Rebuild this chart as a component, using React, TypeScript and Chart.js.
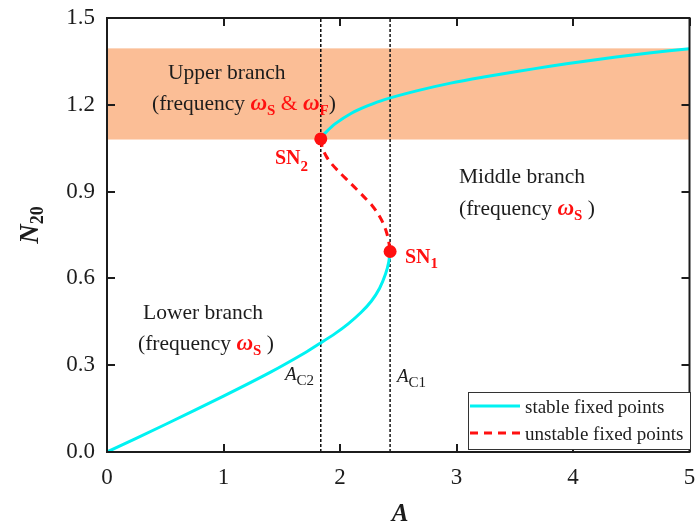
import React, { useEffect, useRef } from "react";
import { Chart, registerables } from "chart.js";

Chart.register(...registerables);

// ---- data ----
const lowerA = [0, 0.5, 1.0, 1.4, 1.7, 1.83, 1.96, 2.07, 2.18, 2.27, 2.34, 2.39, 2.418, 2.43];
const lowerN = [0, 0.095, 0.193, 0.275, 0.343, 0.376, 0.41, 0.443, 0.482, 0.522, 0.566, 0.614, 0.656, 0.693];

const middleA = [1.835, 1.85, 1.885, 1.93, 2.0, 2.07, 2.14, 2.21, 2.275, 2.325, 2.364, 2.393, 2.413, 2.425, 2.43];
const middleN = [1.082, 1.05, 1.02, 0.995, 0.965, 0.937, 0.909, 0.88, 0.852, 0.824, 0.796, 0.767, 0.738, 0.71, 0.693];

const upperA = [1.835, 1.845, 1.871, 1.957, 2.098, 2.24, 2.382, 2.666, 2.95, 3.234, 3.518, 3.802, 4.086, 4.37, 4.653, 5.0];
const upperN = [1.082, 1.09, 1.102, 1.134, 1.171, 1.197, 1.218, 1.249, 1.275, 1.296, 1.315, 1.333, 1.35, 1.365, 1.379, 1.394];

const snA = [1.835, 2.43];
const snN = [1.082, 0.693];

const criticalA = [1.835, 2.43];
const bandN = [1.08, 1.395];

const xTicks = [0, 1, 2, 3, 4, 5];
const yTicks = [0, 0.3, 0.6, 0.9, 1.2, 1.5];

const SERIF = '"Liberation Serif", "Times New Roman", serif';
const CYAN = "#00F2F2";
const RED = "#FF1010";
const BAND = "#FBBE96";
const INK = "#1c1c1c";

const pts = (xs: number[], ys: number[]) => xs.map((x, i) => ({ x, y: ys[i] }));

type Seg = { t: string; f: string; c?: string; dy?: number };

function drawRich(ctx: CanvasRenderingContext2D, x: number, y: number, segs: Seg[], align: "left" | "center" = "left") {
  ctx.save();
  ctx.textBaseline = "alphabetic";
  ctx.textAlign = "left";
  let total = 0;
  for (const s of segs) {
    ctx.font = s.f;
    total += ctx.measureText(s.t).width;
  }
  let cx = align === "center" ? x - total / 2 : x;
  for (const s of segs) {
    ctx.font = s.f;
    ctx.fillStyle = s.c || INK;
    ctx.fillText(s.t, cx, y + (s.dy || 0));
    cx += ctx.measureText(s.t).width;
  }
  ctx.restore();
}

const f = (size: number, style = "") => `${style} ${size}px ${SERIF}`.trim();

const decorPlugin = {
  id: "decor",
  beforeDatasetsDraw(chart: any) {
    const { ctx, chartArea, scales } = chart;
    const ys = scales.y;
    const top = ys.getPixelForValue(bandN[1]);
    const bot = ys.getPixelForValue(bandN[0]);
    ctx.save();
    ctx.fillStyle = BAND;
    ctx.fillRect(chartArea.left, top, chartArea.right - chartArea.left, bot - top);
    ctx.restore();
  },
  afterDraw(chart: any) {
    const { ctx, chartArea: a, scales } = chart;
    const xs = scales.x;
    const ys = scales.y;
    ctx.save();
    // frame
    ctx.strokeStyle = INK;
    ctx.lineWidth = 2;
    ctx.strokeRect(a.left, a.top, a.right - a.left, a.bottom - a.top);
    // inward ticks
    const tl = 8;
    ctx.beginPath();
    for (const v of xTicks) {
      const px = Math.round(xs.getPixelForValue(v));
      ctx.moveTo(px, a.bottom);
      ctx.lineTo(px, a.bottom - tl);
      ctx.moveTo(px, a.top);
      ctx.lineTo(px, a.top + tl);
    }
    for (const v of yTicks) {
      const py = Math.round(ys.getPixelForValue(v));
      ctx.moveTo(a.left, py);
      ctx.lineTo(a.left + tl, py);
      ctx.moveTo(a.right, py);
      ctx.lineTo(a.right - tl, py);
    }
    ctx.stroke();
    ctx.restore();

    // axis titles
    drawRich(ctx, 400, 521, [{ t: "A", f: f(25, "italic bold") }], "center");
    ctx.save();
    ctx.translate(38, 225);
    ctx.rotate(-Math.PI / 2);
    drawRich(ctx, 0, 0, [
      { t: "N", f: f(27, "italic bold") },
      { t: "20", f: f(18, "bold"), dy: 5 },
    ], "center");
    ctx.restore();

    // branch annotations
    const tf = f(21.5);
    const om = f(23, "italic bold");
    const sub = f(15, "bold");
    drawRich(ctx, 168, 79, [{ t: "Upper branch", f: tf }]);
    drawRich(ctx, 152, 110, [
      { t: "(frequency ", f: tf },
      { t: "ω", f: om, c: RED },
      { t: "S", f: sub, c: RED, dy: 5 },
      { t: " & ", f: tf, c: RED },
      { t: "ω", f: om, c: RED },
      { t: "F", f: sub, c: RED, dy: 5 },
      { t: ")", f: tf },
    ]);
    drawRich(ctx, 459, 183, [{ t: "Middle branch", f: tf }]);
    drawRich(ctx, 459, 215, [
      { t: "(frequency ", f: tf },
      { t: "ω", f: om, c: RED },
      { t: "S", f: sub, c: RED, dy: 5 },
      { t: " )", f: tf },
    ]);
    drawRich(ctx, 143, 319, [{ t: "Lower branch", f: tf }]);
    drawRich(ctx, 138, 350, [
      { t: "(frequency ", f: tf },
      { t: "ω", f: om, c: RED },
      { t: "S", f: sub, c: RED, dy: 5 },
      { t: " )", f: tf },
    ]);

    // saddle-node labels
    drawRich(ctx, 275, 164, [
      { t: "SN", f: f(20, "bold"), c: RED },
      { t: "2", f: f(15, "bold"), c: RED, dy: 7 },
    ]);
    drawRich(ctx, 405, 263, [
      { t: "SN", f: f(20, "bold"), c: RED },
      { t: "1", f: f(15, "bold"), c: RED, dy: 5 },
    ]);

    // critical amplitude labels
    drawRich(ctx, 285, 380, [
      { t: "A", f: f(19, "italic") },
      { t: "C2", f: f(15), dy: 5 },
    ]);
    drawRich(ctx, 397, 382, [
      { t: "A", f: f(19, "italic") },
      { t: "C1", f: f(15), dy: 5 },
    ]);

    // legend
    ctx.save();
    ctx.fillStyle = "#fff";
    ctx.fillRect(468, 392, 222, 57);
    ctx.strokeStyle = "#333";
    ctx.lineWidth = 1;
    ctx.strokeRect(468.5, 392.5, 222, 57);
    ctx.lineWidth = 3;
    ctx.strokeStyle = CYAN;
    ctx.beginPath();
    ctx.moveTo(470, 406);
    ctx.lineTo(520, 406);
    ctx.stroke();
    ctx.strokeStyle = RED;
    ctx.setLineDash([8, 6]);
    ctx.beginPath();
    ctx.moveTo(470, 433);
    ctx.lineTo(520, 433);
    ctx.stroke();
    ctx.restore();
    drawRich(ctx, 525, 413, [{ t: "stable fixed points", f: f(19) }]);
    drawRich(ctx, 525, 440, [{ t: "unstable fixed points", f: f(19) }]);
  },
};

export default function App() {
  const ref = useRef<HTMLCanvasElement | null>(null);
  useEffect(() => {
    if (!ref.current) return;
    const chart = new Chart(ref.current, {
      type: "scatter",
      data: {
        datasets: [
          {
            label: "SN",
            data: pts(snA, snN),
            showLine: false,
            pointRadius: 6.5,
            pointBackgroundColor: RED,
            pointBorderColor: RED,
            pointBorderWidth: 0,
          },
          {
            label: "upper",
            data: pts(upperA, upperN),
            showLine: true,
            borderColor: CYAN,
            borderWidth: 3,
            pointRadius: 0,
            tension: 0.3,
          },
          {
            label: "middle",
            data: pts(middleA, middleN),
            showLine: true,
            borderColor: RED,
            borderWidth: 3,
            borderDash: [8, 6],
            pointRadius: 0,
            tension: 0.3,
          },
          {
            label: "lower",
            data: pts(lowerA, lowerN),
            showLine: true,
            borderColor: CYAN,
            borderWidth: 3,
            pointRadius: 0,
            tension: 0.3,
          },
          ...criticalA.map((x, i) => ({
            label: "crit" + i,
            data: [
              { x, y: yTicks[0] },
              { x, y: yTicks[yTicks.length - 1] },
            ],
            showLine: true,
            borderColor: "#111",
            borderWidth: 1.5,
            borderDash: [3, 2],
            pointRadius: 0,
          })),
        ],
      },
      options: {
        animation: false,
        responsive: false,
        events: [],
        layout: { padding: { top: 18, right: 2, left: 0, bottom: 0 } },
        plugins: { legend: { display: false }, tooltip: { enabled: false } },
        scales: {
          x: {
            type: "linear",
            min: 0,
            max: 5,
            afterBuildTicks: (s: any) => {
              s.ticks = xTicks.map((v) => ({ value: v }));
            },
            ticks: {
              color: INK,
              font: { family: SERIF, size: 23 },
              padding: 4,
              callback: (v: any) => String(v),
              maxRotation: 0,
            },
            grid: { display: false },
            border: { display: false },
            afterFit: (s: any) => {
              s.height = 70;
              s.paddingLeft = 0;
              s.paddingRight = 0;
            },
          },
          y: {
            type: "linear",
            min: 0,
            max: 1.5,
            afterBuildTicks: (s: any) => {
              s.ticks = yTicks.map((v) => ({ value: v }));
            },
            ticks: {
              color: INK,
              font: { family: SERIF, size: 23 },
              padding: 4,
              callback: (v: any) => Number(v).toFixed(1),
            },
            grid: { display: false },
            border: { display: false },
            afterFit: (s: any) => {
              s.width = 107;
              s.paddingTop = 0;
              s.paddingBottom = 0;
            },
          },
        },
      },
      plugins: [decorPlugin],
    } as any);
    return () => chart.destroy();
  }, []);
  return (
    <div style={{ position: "absolute", left: 0, top: 0, width: 696, height: 522, background: "#fff" }}>
      <canvas ref={ref} width={696} height={522} style={{ display: "block" }} />
    </div>
  );
}
